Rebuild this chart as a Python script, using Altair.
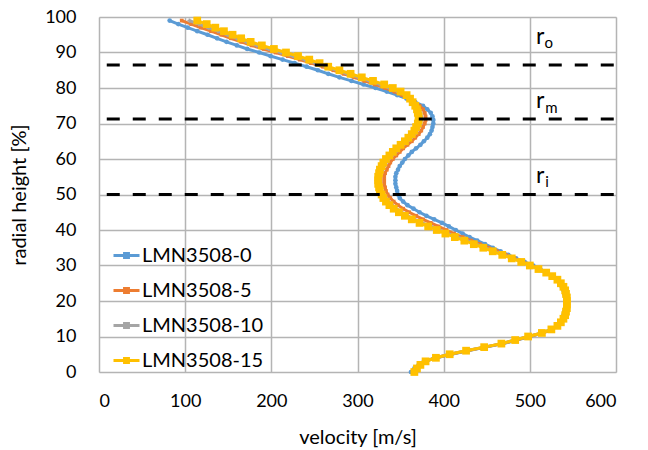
import altair as alt
import pandas as pd

series_names = ["LMN3508-0", "LMN3508-5", "LMN3508-10", "LMN3508-15"]
series_colors = ["#5B9BD5", "#ED7D31", "#A5A5A5", "#FFC000"]

heights = list(range(0, 100))

v_0 = [362, 366, 371, 377, 392, 409, 428, 449, 469, 485,
       500, 515, 525, 532, 536, 538, 539, 540, 541, 542,
       542, 541, 540, 539, 537, 535, 531, 526, 520, 512,
       504, 494, 484, 475, 466, 457, 448, 439, 430, 422,
       414, 406, 398, 389, 380, 372, 365, 358, 353, 349,
       347, 346, 345, 344, 344, 344, 345, 347, 349, 352,
       355, 359, 363, 368, 373, 377, 381, 384, 386, 387,
       388, 388, 387, 385, 381, 376, 367, 357, 346, 334,
       321, 307, 293, 279, 266, 254, 241, 227, 213, 199,
       186, 172, 160, 148, 137, 126, 114, 103, 92, 82]

v_5 = [364, 367, 372, 378, 391, 408, 427, 448, 468, 484,
       499, 515, 526, 532, 536, 538, 540, 541, 541, 542,
       542, 542, 541, 540, 538, 535, 531, 526, 519, 511,
       502, 492, 482, 472, 462, 452, 442, 432, 422, 412,
       403, 394, 385, 376, 368, 360, 353, 347, 342, 338,
       335, 333, 332, 331, 331, 331, 332, 334, 336, 338,
       341, 345, 349, 353, 358, 363, 367, 371, 374, 376,
       378, 379, 379, 378, 376, 372, 366, 359, 352, 343,
       332, 320, 308, 296, 284, 272, 260, 246, 233, 219,
       205, 191, 177, 165, 153, 142, 130, 118, 107, 96]

v_10 = [365, 368, 372, 378, 391, 407, 426, 447, 467, 483,
        498, 514, 525, 532, 536, 539, 541, 542, 542, 543,
        543, 542, 542, 540, 538, 536, 532, 526, 519, 510,
        501, 491, 480, 470, 459, 448, 438, 427, 416, 405,
        395, 385, 375, 366, 358, 351, 345, 340, 336, 333,
        330, 328, 327, 326, 326, 326, 327, 329, 331, 333,
        336, 340, 344, 348, 353, 358, 362, 366, 369, 371,
        373, 374, 374, 373, 371, 369, 365, 360, 355, 347,
        337, 326, 314, 301, 288, 276, 263, 251, 239, 225,
        211, 197, 183, 171, 160, 149, 138, 127, 116, 105]

v_15 = [366, 369, 373, 379, 391, 407, 426, 447, 467, 483,
        498, 514, 525, 532, 536, 539, 541, 542, 543, 543,
        543, 543, 542, 541, 539, 536, 532, 526, 519, 510,
        500, 490, 479, 468, 457, 446, 435, 424, 413, 402,
        392, 382, 372, 363, 355, 348, 342, 337, 333, 330,
        328, 326, 325, 324, 324, 324, 325, 326, 328, 330,
        333, 337, 341, 345, 350, 355, 359, 363, 366, 368,
        370, 371, 371, 370, 369, 367, 364, 361, 357, 350,
        341, 331, 318, 305, 292, 279, 266, 256, 244, 231,
        217, 203, 189, 176, 165, 155, 145, 135, 125, 114]

series_values = [v_0, v_5, v_10, v_15]
marker_shapes = ["circle", "square", "cross", "square"]
marker_sizes = [22, 14, 18, 60]

radius_levels = [86.5, 71.3, 50.0]
radius_labels = ["o", "m", "i"]
x_ticks = [0, 100, 200, 300, 400, 500, 600]
y_ticks = [0, 10, 20, 30, 40, 50, 60, 70, 80, 90, 100]

rows = []
for name, vals in zip(series_names, series_values):
    for h, v in zip(heights, vals):
        rows.append({"series": name, "h": h, "v": v})
df = pd.DataFrame(rows)

FONT = "Lato"
GRID = "#b4b4b4"

xscale = alt.Scale(domain=[0, 600], nice=False, zero=False)
yscale = alt.Scale(domain=[0, 100], nice=False, zero=False)
cscale = alt.Scale(domain=series_names, range=series_colors)

x_axis = alt.Axis(values=x_ticks, grid=True, gridColor=GRID, gridWidth=1.5,
                  domain=False, ticks=False, tickSize=0, labelFont=FONT,
                  labelFontSize=18, labelColor="#000000", labelPadding=20,
                  title="velocity [m/s]", titleFont=FONT, titleFontSize=20,
                  titleFontWeight="normal", titleColor="#000000",
                  titleY=65, titleBaseline="middle")
y_axis = alt.Axis(values=y_ticks, grid=True, gridColor=GRID, gridWidth=1.5,
                  domain=False, ticks=False, tickSize=0, labelFont=FONT,
                  labelFontSize=18, labelColor="#000000", labelPadding=23,
                  title="radial height [%]", titleFont=FONT, titleFontSize=20,
                  titleFontWeight="normal", titleColor="#000000",
                  titleX=-80, titleBaseline="middle")

legend = alt.Legend(title=None, orient="none", legendX=13, legendY=224,
                    padding=0,
                    symbolType="M-1,0L1,0M-0.15,-0.15L0.15,-0.15L0.15,0.15L-0.15,0.15Z",
                    symbolSize=676, symbolStrokeWidth=3, labelFont=FONT,
                    labelFontSize=20, labelColor="#000000", labelOffset=1,
                    rowPadding=10)

X = lambda f: alt.X(f, scale=xscale, axis=x_axis, title="velocity [m/s]")
Y = lambda f: alt.Y(f, scale=yscale, axis=y_axis, title="radial height [%]")

base = alt.Chart(df)
layers = []
for i, (name, shp, sz) in enumerate(zip(series_names, marker_shapes, marker_sizes)):
    line = base.transform_filter(alt.datum.series == name).mark_line(
        strokeWidth=3).encode(
        x=X("v:Q"), y=Y("h:Q"),
        order=alt.Order("h:Q"),
        color=alt.Color("series:N", scale=cscale, legend=legend,
                        sort=series_names),
    )
    pts = base.transform_filter(alt.datum.series == name).mark_point(
        filled=True, shape=shp, size=sz, opacity=1).encode(
        x=X("v:Q"), y=Y("h:Q"),
        color=alt.Color("series:N", scale=cscale, legend=legend,
                        sort=series_names),
    )
    layers += [line, pts]

rules_df = pd.DataFrame({"h": radius_levels, "x0": [9, 9, 9], "x1": [600, 600, 600]})
rules = alt.Chart(rules_df).mark_rule(color="black", strokeWidth=3,
                                      strokeDash=[13, 13]).encode(
    x=X("x0:Q"), x2="x1:Q", y=Y("h:Q"))
layers.append(rules)

r_main = pd.DataFrame({"t": ["r", "r", "r"], "h": [94.4, 76.4, 55.3],
                       "v": [512, 512, 512]})
r_sub = pd.DataFrame({"t": radius_labels, "h": [92.6, 74.5, 53.4],
                      "v": [522, 525, 520]})
rtext = alt.Chart(r_main).mark_text(font=FONT, fontSize=23, color="black",
                                    align="center", baseline="middle").encode(
    x=X("v:Q"), y=Y("h:Q"), text="t:N")
subtext = alt.Chart(r_sub).mark_text(font=FONT, fontSize=15, color="black",
                                     align="center", baseline="middle").encode(
    x=X("v:Q"), y=Y("h:Q"), text="t:N")
layers += [rtext, subtext]

chart = alt.layer(*layers).properties(
    width=517, height=355,
    padding={"left": 99, "top": 17, "right": 32, "bottom": 78},
    autosize=alt.AutoSizeParams(type="none"),
).configure_view(
    stroke=GRID, strokeWidth=1.5
).configure(background="white")

chart.save("out.html", embed_options={"renderer": "svg", "actions": False})
